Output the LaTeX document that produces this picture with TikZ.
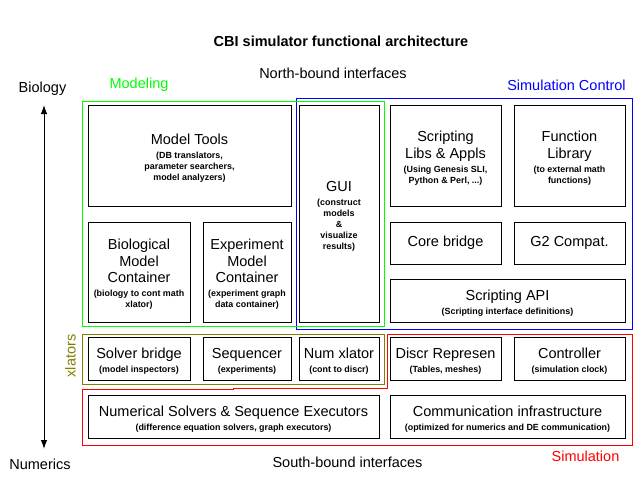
\documentclass[tikz,border=0pt]{standalone}
\usepackage{fontspec}
\setmainfont{Liberation Sans}
\usetikzlibrary{arrows.meta}
\definecolor{olivec}{RGB}{128,128,0}
\definecolor{greenc}{RGB}{0,255,0}
\definecolor{bluec}{RGB}{0,0,255}
\definecolor{redc}{RGB}{255,0,0}
\newcommand\bigf{\fontsize{14.5}{16.5}\selectfont}
\newcommand\smf{\fontsize{8.9}{11}\selectfont\bfseries}
\newcommand\tp{\rule{0pt}{15.5pt}}
\begin{document}
\begin{tikzpicture}[x=1pt,y=-1pt,
  blk/.style={draw, line width=0.9pt, inner sep=0pt, align=center, font=\bigf},
  lbl/.style={inner sep=0pt, font=\bigf},
  outl/.style={line width=0.9pt}]
\fill[white] (0,0) rectangle (640,480);
\useasboundingbox (0,0) rectangle (640,480);
% outlines
\draw[outl, bluec] (296,98) rectangle (632,329.5);
\draw[outl, greenc] (82,101) rectangle (384,326);
\draw[outl, olivec] (82,334) rectangle (384,384.5);
\draw[outl, redc] (387,334) -- (632,334) -- (632,445.5) -- (82,445.5) -- (82,389) -- (233,389) -- (233,388.5) -- (387,388.5) -- cycle;
% labels
\node[lbl, font=\fontsize{14.5}{16}\selectfont\bfseries] (title) at (341,41) {CBI simulator functional architecture};
\node[lbl] (north) at (333,73) {North-bound interfaces};
\node[lbl] (south) at (347.5,462) {South-bound interfaces};
\node[lbl] (biol) at (42.5,89) {Biology};
\node[lbl] (numer) at (40,464) {Numerics};
\node[lbl, greenc] (modl) at (139,85) {Modeling};
\node[lbl, bluec] (simctl) at (566.5,85) {Simulation Control};
\node[lbl, redc] (siml) at (585.5,456) {Simulation};
\node[lbl, olivec, rotate=90] (xlat) at (70.5,356) {xlators};
% arrow
\coordinate (atop) at (44,105);
\coordinate (abot) at (44,449);
\draw[line width=1pt, {Latex[length=9pt,width=6.5pt]}-{Latex[length=9pt,width=6.5pt]}] (atop) -- (abot);
% boxes
\node[blk, minimum width=203pt, minimum height=101pt] (mtools) at (189.5,155.5)
  {\bigf\tp Model Tools\\[-2.5pt]\smf (DB translators,\\[-5.5pt]\smf parameter searchers,\\[-5.5pt]\smf model analyzers)};
\node[blk, minimum width=80pt, minimum height=217pt] (gui) at (339,213.5)
  {\bigf\tp GUI\\[-2.5pt]\smf (construct\\[-5.5pt]\smf models\\[-5.5pt]\smf \&\\[-5.5pt]\smf visualize\\[-5.5pt]\smf results)};
\node[blk, minimum width=111pt, minimum height=101pt] (slib) at (445.5,155.5)
  {\bigf\tp Scripting\\\bigf Libs \& Appls\\[-2.5pt]\smf (Using Genesis SLI,\\[-5.5pt]\smf Python \& Perl, ...)};
\node[blk, minimum width=111pt, minimum height=101pt] (flib) at (569.5,155.5)
  {\bigf\tp Function\\\bigf Library\\[-2.5pt]\smf (to external math\\[-5.5pt]\smf functions)};
\node[blk, minimum width=102pt, minimum height=100pt] (bio) at (139,272)
  {\bigf\tp Biological\\\bigf Model\\\bigf Container\\[-2.5pt]\smf (biology to cont math\\[-5.5pt]\smf xlator)};
\node[blk, minimum width=88pt, minimum height=100pt] (exp) at (247,272)
  {\bigf\tp Experiment\\\bigf Model\\\bigf Container\\[-2.5pt]\smf (experiment graph\\[-5.5pt]\smf data container)};
\node[blk, minimum width=111pt, minimum height=42pt] (core) at (445.5,243) {Core bridge};
\node[blk, minimum width=111pt, minimum height=42pt] (g2) at (569.5,243) {G2 Compat.};
\node[blk, minimum width=235pt, minimum height=43pt] (api) at (507.5,300.5)
  {\bigf\tp Scripting API\\[-2.5pt]\smf (Scripting interface definitions)};
\node[blk, minimum width=102pt, minimum height=43pt] (solver) at (139,358.5)
  {\bigf\tp Solver bridge\\[-2.5pt]\smf (model inspectors)};
\node[blk, minimum width=88pt, minimum height=43pt] (seq) at (247,358.5)
  {\bigf\tp Sequencer\\[-2.5pt]\smf (experiments)};
\node[blk, minimum width=80pt, minimum height=43pt] (numx) at (339,358.5)
  {\bigf\tp Num xlator\\[-2.5pt]\smf (cont to discr)};
\node[blk, minimum width=111pt, minimum height=43pt] (discr) at (445.5,358.5)
  {\bigf\tp Discr Represen\\[-2.5pt]\smf (Tables, meshes)};
\node[blk, minimum width=111pt, minimum height=43pt] (ctrl) at (569.5,358.5)
  {\bigf\tp Controller\\[-2.5pt]\smf (simulation clock)};
\node[blk, minimum width=291pt, minimum height=43pt] (nsolv) at (233.5,416.5)
  {\bigf\tp Numerical Solvers \& Sequence Executors\\[-2.5pt]\smf (difference equation solvers, graph executors)};
\node[blk, minimum width=235pt, minimum height=43pt] (comm) at (507.5,416.5)
  {\bigf\tp Communication infrastructure\\[-2.5pt]\smf (optimized for numerics and DE communication)};
\end{tikzpicture}
\end{document}
